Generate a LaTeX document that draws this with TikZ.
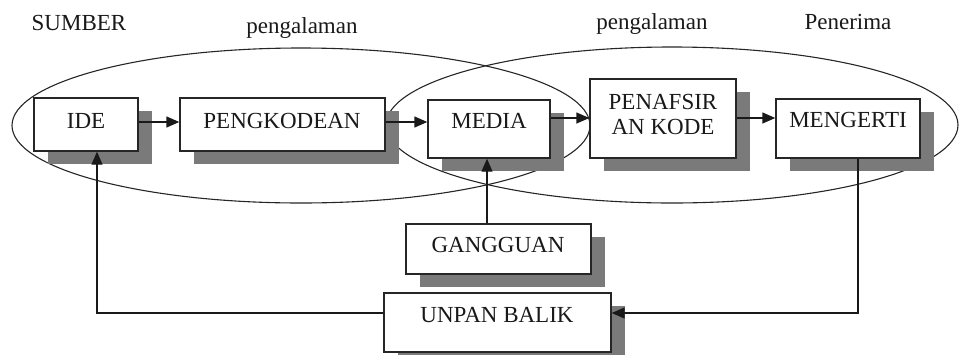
\documentclass[tikz,border=0pt]{standalone}
\usepackage{fontspec}
\setmainfont{Liberation Serif}
\usetikzlibrary{shadows,arrows.meta}
\begin{document}
\begin{tikzpicture}[x=1pt,y=-1pt,
 box/.style={draw=black!85, line width=1.4pt, fill=white, inner sep=0pt,
   general shadow={fill=black!52, shadow xshift=14pt, shadow yshift=-13pt}},
 txt/.style={font=\fontsize{23}{25}\selectfont, anchor=base, inner sep=0pt, text=black!90},
 arr/.style={line width=1.4pt, draw=black!90, -{Triangle[length=13pt,width=11pt]}},
 ell/.style={line width=1.1pt, draw=black!85}]
\useasboundingbox (0,0) rectangle (962,354);
% ellipses
\draw[ell] (301,125.5) ellipse [x radius=289, y radius=77.5];
\draw[ell] (672,125) ellipse [x radius=286, y radius=78];
% boxes
\node[box, minimum width=104pt, minimum height=53pt] (ide) at (86,124.5) {};
\node[box, minimum width=205pt, minimum height=53pt] (peng) at (282.5,124.5) {};
\node[box, minimum width=122pt, minimum height=58pt] (media) at (489,129) {};
\node[box, minimum width=146pt, minimum height=79pt] (pen) at (663,118.5) {};
\node[box, minimum width=144pt, minimum height=59pt] (meng) at (848,128.5) {};
\node[box, minimum width=185pt, minimum height=50pt] (gang) at (498.5,249) {};
\node[box, minimum width=227pt, minimum height=59pt] (unpan) at (497.5,322.5) {};
% texts
\node[txt] (tide) at (86,128) {IDE};
\node[txt] (tpeng) at (282,128) {PENGKODEAN};
\node[txt] (tmedia) at (489,128) {MEDIA};
\node[txt] (tpen1) at (663,109) {PENAFSIR};
\node[txt] (tpen2) at (663,134) {AN KODE};
\node[txt] (tmeng) at (848,127) {MENGERTI};
\node[txt] (tgang) at (498,252) {GANGGUAN};
\node[txt] (tunpan) at (497,322) {UNPAN BALIK};
\node[txt] (sumber) at (79,30) {SUMBER};
\node[txt] (peng1) at (302,33) {pengalaman};
\node[txt] (peng2) at (652,29) {pengalaman};
\node[txt] (pener) at (848,29) {Penerima};
% arrows
\coordinate (r1) at (0,122);
\coordinate (r2) at (0,118);
\draw[arr] (ide.east |- r1) -- (peng.west |- r1);
\draw[arr] (peng.east |- r1) -- (media.west |- r1);
\draw[arr] (media.east |- r2) -- (pen.west |- r2);
\draw[arr] (pen.east |- r2) -- (meng.west |- r2);
\coordinate (gx) at (487,0);
\draw[arr] (gang.north -| gx) -- (media.south -| gx);
\coordinate (fbr) at (858,313);
\coordinate (fbl) at (97,313);
\draw[arr] (meng.south -| fbr) -- (fbr) -- (unpan.east |- fbr);
\draw[arr] (unpan.west |- fbl) -- (fbl) -- (ide.south -| fbl);
\end{tikzpicture}
\end{document}
